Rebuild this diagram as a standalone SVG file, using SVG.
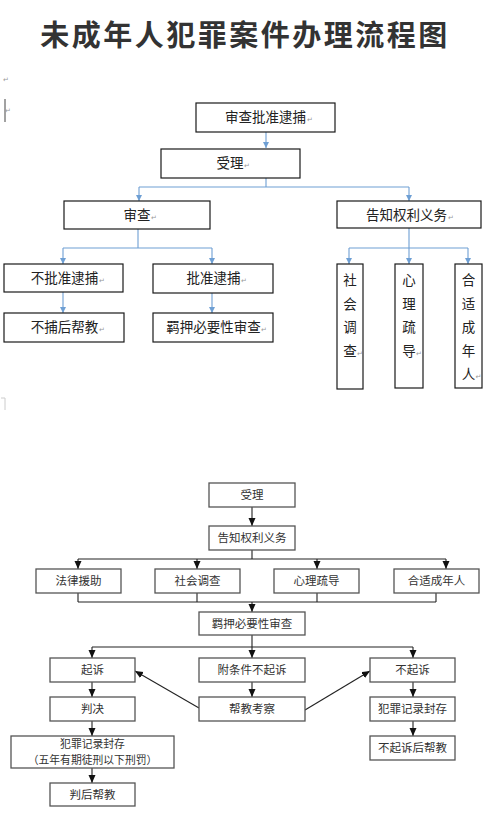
<svg xmlns="http://www.w3.org/2000/svg" width="500" height="816" viewBox="0 0 500 816">
<style>
.title{font-family:"Noto Sans CJK SC","Noto Sans",sans-serif;font-size:29px;font-weight:bold;fill:#333;text-anchor:middle;letter-spacing:2.5px}
.tb{fill:#fff;stroke:#1a1a1a;stroke-width:1.2}
.tt{font-family:"Noto Sans CJK SC","Noto Sans",sans-serif;font-size:13.5px;fill:#222;text-anchor:middle}
.pm{font-family:"DejaVu Sans",sans-serif;font-size:7px;fill:#999}
.tc{fill:none;stroke:#6e9fd4;stroke-width:1.1}
.bb{fill:#fff;stroke:#555;stroke-width:1.3}
.bt{font-family:"Noto Sans CJK SC","Noto Sans",sans-serif;font-size:11.5px;fill:#333;text-anchor:middle}
.bs{font-family:"Noto Sans CJK SC","Noto Sans",sans-serif;font-size:10.8px;fill:#333;text-anchor:middle}
.bc{fill:none;stroke:#222;stroke-width:1.1}
</style>
<defs>
<marker id="ab" markerUnits="userSpaceOnUse" markerWidth="8" markerHeight="8" refX="6" refY="3" orient="auto"><path d="M0,0 L6,3 L0,6 z" fill="#6e9fd4"/></marker>
<marker id="ak" markerUnits="userSpaceOnUse" markerWidth="10" markerHeight="10" refX="8" refY="3.5" orient="auto"><path d="M0,0 L8,3.5 L0,7 z" fill="#111"/></marker>
</defs>
<rect width="500" height="816" fill="#fff"/>
<text class="title" x="245" y="46">未成年人犯罪案件办理流程图</text>
<g id="margin-marks">
<text class="pm" x="3" y="82">↵</text>
<line x1="5" y1="99" x2="5" y2="122" stroke="#444" stroke-width="1"/>
<text class="pm" x="5" y="113">↵</text>
<path d="M1,398 H5 V410" fill="none" stroke="#ccc" stroke-width="1"/>
</g>
<g id="connectors">
<line class="tc" x1="266" y1="132" x2="266" y2="148" marker-end="url(#ab)"/>
<path class="tc" d="M266,178 V187 M139,187 H409"/>
<line class="tc" x1="139" y1="187" x2="139" y2="201" marker-end="url(#ab)"/>
<line class="tc" x1="409" y1="187" x2="409" y2="201" marker-end="url(#ab)"/>
<path class="tc" d="M138,229 V248 M63,248 H212"/>
<line class="tc" x1="63" y1="248" x2="63" y2="264" marker-end="url(#ab)"/>
<line class="tc" x1="212" y1="248" x2="212" y2="264" marker-end="url(#ab)"/>
<line class="tc" x1="63" y1="292" x2="63" y2="313" marker-end="url(#ab)"/>
<line class="tc" x1="212" y1="293" x2="212" y2="313" marker-end="url(#ab)"/>
<path class="tc" d="M409,228 V248 M349,248 H468"/>
<line class="tc" x1="349" y1="248" x2="349" y2="264" marker-end="url(#ab)"/>
<line class="tc" x1="409" y1="248" x2="409" y2="264" marker-end="url(#ab)"/>
<line class="tc" x1="468" y1="248" x2="468" y2="264" marker-end="url(#ab)"/>
<line class="bc" x1="252" y1="507" x2="252" y2="526" marker-end="url(#ak)"/>
<path class="bc" d="M252,550 V559 M78,559 H446"/>
<line class="bc" x1="78" y1="559" x2="78" y2="569" marker-end="url(#ak)"/>
<line class="bc" x1="197" y1="559" x2="197" y2="569" marker-end="url(#ak)"/>
<line class="bc" x1="317" y1="559" x2="317" y2="569" marker-end="url(#ak)"/>
<line class="bc" x1="446" y1="559" x2="446" y2="569" marker-end="url(#ak)"/>
<path class="bc" d="M78,593 V602 M197,593 V602 M317,593 V602 M436,593 V602 M78,602 H436"/>
<line class="bc" x1="252" y1="602" x2="252" y2="612" marker-end="url(#ak)"/>
<path class="bc" d="M252,635 V647 M92,647 H413"/>
<line class="bc" x1="92" y1="647" x2="92" y2="658" marker-end="url(#ak)"/>
<line class="bc" x1="252" y1="647" x2="252" y2="658" marker-end="url(#ak)"/>
<line class="bc" x1="413" y1="647" x2="413" y2="658" marker-end="url(#ak)"/>
<line class="bc" x1="92" y1="682" x2="92" y2="697" marker-end="url(#ak)"/>
<line class="bc" x1="252" y1="682" x2="252" y2="697" marker-end="url(#ak)"/>
<line class="bc" x1="413" y1="682" x2="413" y2="697" marker-end="url(#ak)"/>
<line class="bc" x1="199" y1="708" x2="135" y2="671" marker-end="url(#ak)"/>
<line class="bc" x1="305" y1="710" x2="370" y2="671" marker-end="url(#ak)"/>
<line class="bc" x1="92" y1="721" x2="92" y2="736" marker-end="url(#ak)"/>
<line class="bc" x1="413" y1="721" x2="413" y2="736" marker-end="url(#ak)"/>
<line class="bc" x1="92" y1="768" x2="92" y2="783" marker-end="url(#ak)"/>
</g>
<g id="t-shenchapizhun"><rect class="tb" x="196" y="103" width="139" height="29"/><text class="tt" x="265.5" y="122">审查批准逮捕</text><text class="pm" x="307" y="122">↵</text></g>
<g id="t-shouli"><rect class="tb" x="161" y="149" width="139" height="29"/><text class="tt" x="230" y="168">受理</text><text class="pm" x="244" y="168">↵</text></g>
<g id="t-shencha"><rect class="tb" x="64" y="201" width="146" height="28"/><text class="tt" x="137" y="220">审查</text><text class="pm" x="151" y="220">↵</text></g>
<g id="t-gaozhi"><rect class="tb" x="337" y="201" width="144" height="27"/><text class="tt" x="406.5" y="219.5">告知权利义务</text><text class="pm" x="448" y="219.5">↵</text></g>
<g id="t-bupizhun"><rect class="tb" x="4" y="264" width="119" height="28"/><text class="tt" x="64.5" y="283">不批准逮捕</text><text class="pm" x="99" y="283">↵</text></g>
<g id="t-pizhun"><rect class="tb" x="153" y="264" width="120" height="29"/><text class="tt" x="213.5" y="283">批准逮捕</text><text class="pm" x="241" y="283">↵</text></g>
<g id="t-bubuhou"><rect class="tb" x="4" y="313" width="120" height="29"/><text class="tt" x="64.5" y="332">不捕后帮教</text><text class="pm" x="99" y="332">↵</text></g>
<g id="t-jiya"><rect class="tb" x="153" y="313" width="120" height="29"/><text class="tt" x="213.5" y="332">羁押必要性审查</text><text class="pm" x="261" y="332">↵</text></g>
<g id="t-shehui"><rect class="tb" x="337" y="264" width="26" height="125"/><text class="tt" x="350" y="285">社</text><text class="tt" x="350" y="308.5">会</text><text class="tt" x="350" y="332">调</text><text class="tt" x="350" y="355.5">查</text><text class="pm" x="357" y="355.5">↵</text></g>
<g id="t-xinli"><rect class="tb" x="395" y="264" width="28" height="124"/><text class="tt" x="409" y="285">心</text><text class="tt" x="409" y="308.5">理</text><text class="tt" x="409" y="332">疏</text><text class="tt" x="409" y="355.5">导</text><text class="pm" x="416" y="355.5">↵</text></g>
<g id="t-heshi"><rect class="tb" x="455" y="264" width="27" height="124"/><text class="tt" x="468.5" y="285">合</text><text class="tt" x="468.5" y="308.5">适</text><text class="tt" x="468.5" y="332">成</text><text class="tt" x="468.5" y="355.5">年</text><text class="tt" x="468.5" y="379">人</text><text class="pm" x="475.5" y="379">↵</text></g>
<g id="b-shouli"><rect class="bb" x="209" y="483" width="86" height="24"/><text class="bt" x="252" y="499">受理</text></g>
<g id="b-gaozhi"><rect class="bb" x="209" y="526" width="86" height="24"/><text class="bt" x="252" y="542">告知权利义务</text></g>
<g id="b-falv"><rect class="bb" x="36" y="569" width="85" height="24"/><text class="bt" x="78.5" y="585">法律援助</text></g>
<g id="b-shehui"><rect class="bb" x="155" y="569" width="85" height="24"/><text class="bt" x="197.5" y="585">社会调查</text></g>
<g id="b-xinli"><rect class="bb" x="274" y="569" width="85" height="24"/><text class="bt" x="316.5" y="585">心理疏导</text></g>
<g id="b-heshi"><rect class="bb" x="394" y="569" width="85" height="24"/><text class="bt" x="436.5" y="585">合适成年人</text></g>
<g id="b-jiya"><rect class="bb" x="199" y="612" width="106" height="23"/><text class="bt" x="252" y="627.5">羁押必要性审查</text></g>
<g id="b-qisu"><rect class="bb" x="50" y="658" width="85" height="24"/><text class="bt" x="92.5" y="674">起诉</text></g>
<g id="b-futiaojian"><rect class="bb" x="199" y="658" width="106" height="24"/><text class="bt" x="252" y="674">附条件不起诉</text></g>
<g id="b-buqisu"><rect class="bb" x="370" y="658" width="85" height="24"/><text class="bt" x="412.5" y="674">不起诉</text></g>
<g id="b-panjue"><rect class="bb" x="50" y="697" width="85" height="24"/><text class="bt" x="92.5" y="713">判决</text></g>
<g id="b-bangjiao"><rect class="bb" x="199" y="697" width="106" height="24"/><text class="bt" x="252" y="713">帮教考察</text></g>
<g id="b-fengcun-r"><rect class="bb" x="370" y="697" width="85" height="24"/><text class="bt" x="412.5" y="713">犯罪记录封存</text></g>
<g id="b-fengcun-l"><rect class="bb" x="11" y="736" width="163" height="32"/><text class="bs" x="92.5" y="748">犯罪记录封存</text><text class="bs" x="92.5" y="764">（五年有期徒刑以下刑罚）</text></g>
<g id="b-buqisuhou"><rect class="bb" x="370" y="736" width="85" height="24"/><text class="bt" x="412.5" y="752">不起诉后帮教</text></g>
<g id="b-panhou"><rect class="bb" x="50" y="783" width="85" height="23"/><text class="bt" x="92.5" y="798.5">判后帮教</text></g>
</svg>
